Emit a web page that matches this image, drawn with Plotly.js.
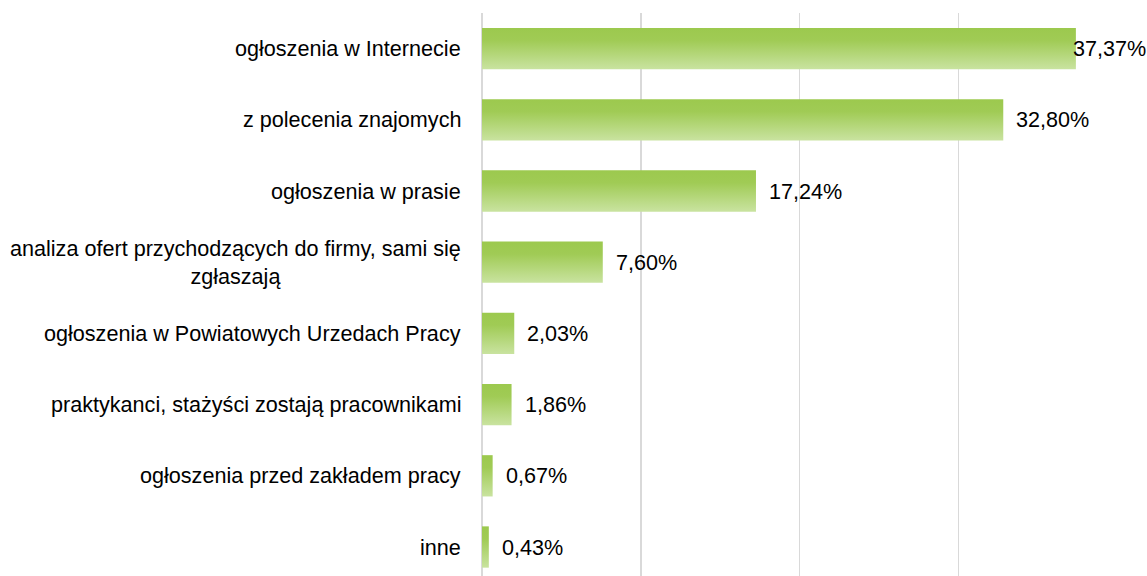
<!DOCTYPE html>
<html>
<head>
<meta charset="utf-8">
<script src="https://cdn.plot.ly/plotly-3.0.1.min.js"></script>
<style>
html,body{margin:0;padding:0;background:#fff;}
#chart{width:1147px;height:576px;}
</style>
</head>
<body>
<div id="chart"></div>
<script>
const categories = [
  "ogłoszenia w Internecie",
  "z polecenia znajomych",
  "ogłoszenia w prasie",
  "analiza ofert przychodzących do firmy, sami się<br>zgłaszają",
  "ogłoszenia w Powiatowych Urzedach Pracy",
  "praktykanci, stażyści zostają pracownikami",
  "ogłoszenia przed zakładem pracy",
  "inne"
];
const values = [37.37, 32.80, 17.24, 7.60, 2.03, 1.86, 0.67, 0.43];
const valueLabels = values.map(v => v.toFixed(2).replace('.', ',') + '%');

const FONT = '"Liberation Sans", Arial, sans-serif';
const GRID = '#d9d9d9';
const FS = 21.6;

const trace = {
  type: 'bar',
  orientation: 'h',
  x: values,
  y: categories,
  width: 0.58,
  marker: {color: '#a6cf5e', line: {width: 0}},
  hoverinfo: 'none'
};

const annotations = [];
categories.forEach((c, i) => {
  annotations.push({
    xref: 'paper', yref: 'y', x: 0, y: c,
    xanchor: 'right', yanchor: 'middle', xshift: -19,
    text: c, showarrow: false, align: 'center',
    font: {family: FONT, size: FS, color: '#000'}
  });
  annotations.push({
    xref: 'x', yref: 'y', x: values[i], y: c,
    xanchor: 'left', yanchor: 'middle',
    xshift: (values[i] / 40 > 0.9) ? -5 : 11,
    text: valueLabels[i], showarrow: false,
    font: {family: FONT, size: FS, color: '#000'}
  });
});

const layout = {
  width: 1147, height: 576,
  margin: {l: 482, r: 29, t: 13, b: 0, pad: 0},
  paper_bgcolor: '#fff', plot_bgcolor: '#fff',
  showlegend: false,
  xaxis: {
    range: [0, 40.02], dtick: 10, tick0: 0,
    showgrid: true, gridcolor: GRID, gridwidth: 1.3,
    zeroline: true, zerolinecolor: GRID, zerolinewidth: 1.3,
    showticklabels: false, ticks: '', showline: false, fixedrange: true
  },
  yaxis: {
    type: 'category',
    categoryorder: 'array', categoryarray: categories,
    range: [7.407, -0.5],
    showticklabels: false, ticks: '', showgrid: false, zeroline: false, showline: false,
    fixedrange: true
  },
  annotations: annotations,
  bargap: 0.42
};

Plotly.newPlot('chart', [trace], layout, {displayModeBar: false, staticPlot: true}).then(gd => {
  const svg = gd.querySelector('.main-svg');
  let defs = svg.querySelector('defs');
  const ns = 'http://www.w3.org/2000/svg';
  if (!defs) { defs = document.createElementNS(ns, 'defs'); svg.insertBefore(defs, svg.firstChild); }
  const lg = document.createElementNS(ns, 'linearGradient');
  lg.setAttribute('id', 'barGrad');
  lg.setAttribute('x1', '0'); lg.setAttribute('y1', '0');
  lg.setAttribute('x2', '0'); lg.setAttribute('y2', '1');
  [['0%', '#9cc94e'], ['30%', '#a0cb55'], ['100%', '#c9e3a0']].forEach(([o, c]) => {
    const s = document.createElementNS(ns, 'stop');
    s.setAttribute('offset', o); s.setAttribute('stop-color', c);
    lg.appendChild(s);
  });
  defs.appendChild(lg);
  gd.querySelectorAll('.bars .point path').forEach(p => { p.style.fill = 'url(#barGrad)'; });
});
</script>
</body>
</html>
